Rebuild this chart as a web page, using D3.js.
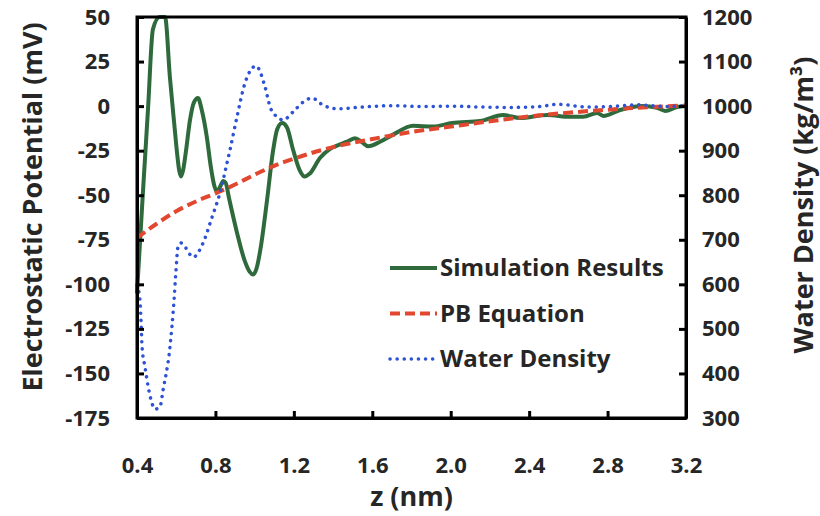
<!DOCTYPE html>
<html>
<head>
<meta charset="utf-8">
<script src="https://cdn.jsdelivr.net/npm/d3@7"></script>
<style>
  body { margin: 0; background: #fff; }
  text { font-family: "Open Sans", "Noto Sans", sans-serif; font-weight: bold; fill: #262626; }
</style>
</head>
<body>
<div id="chart"></div>
<script>
// values
var simZ = [0.400, 0.431, 0.456, 0.481, 0.515, 0.543, 0.568, 0.590, 0.605, 0.615, 0.624, 0.635, 0.650, 0.670, 0.690, 0.711, 0.730, 0.757, 0.775, 0.795, 0.808, 0.825, 0.840, 0.852, 0.870, 0.910, 0.950, 0.975, 0.992, 1.010, 1.030, 1.063, 1.094, 1.115, 1.140, 1.165, 1.196, 1.230, 1.255, 1.280, 1.334, 1.385, 1.436, 1.480, 1.512, 1.545, 1.579, 1.640, 1.706, 1.808, 1.910, 2.007, 2.150, 2.267, 2.354, 2.492, 2.609, 2.676, 2.747, 2.778, 2.864, 2.977, 3.053, 3.094, 3.155, 3.200]
var simV = [-105, -47, -2, 43, 66, 50, 16, -10, -27, -36, -39.5, -36, -25, -8, 2, 4.5, -2, -18, -33, -45, -48, -45, -42, -43, -52, -71, -87, -93, -94.5, -91, -80, -53, -25, -13, -9.5, -12, -24.5, -36, -39.5, -38, -29, -24, -21.5, -19.5, -18, -20, -22.5, -20, -16, -11, -11.5, -9.5, -8.4, -5, -6.7, -5, -6, -6, -3.9, -5.5, -2.2, 0, -1, -2.7, -0.5, 0]

var pbZ = [0.4, 0.5, 0.6, 0.7, 0.8, 0.9, 1.0, 1.1, 1.2, 1.4, 1.6, 1.8, 2.0, 2.2, 2.4, 2.6, 2.8, 3.0, 3.2]
var pbV = [-74, -66, -59, -53.5, -49, -44, -38.5, -33.5, -29.5, -23, -18.5, -14.5, -11.5, -8.5, -5.8, -3.7, -2, -0.6, 0.3]

var denZ = [0.400, 0.415, 0.421, 0.426, 0.441, 0.457, 0.472, 0.492, 0.517, 0.533, 0.568, 0.589, 0.599, 0.609, 0.624, 0.645, 0.686, 0.732, 0.783, 0.823, 0.859, 0.874, 0.910, 0.951, 1.007, 1.053, 1.079, 1.114, 1.145, 1.196, 1.247, 1.293, 1.349, 1.420, 1.553, 1.700, 1.850, 2.000, 2.150, 2.300, 2.450, 2.550, 2.700, 2.850, 2.950, 3.100, 3.200]
var denV = [598, 565, 513, 459, 414, 370, 340, 320, 325, 363, 459, 565, 632, 684, 693, 684, 661, 688, 751, 805, 872, 901, 976, 1052, 1090, 1043, 998, 976, 969, 987, 1009, 1018, 1002, 994, 998, 1001, 999, 1000, 998, 997, 999, 1004, 998, 1000, 1003, 999, 1001]

var xTicks = [0.4, 0.8, 1.2, 1.6, 2.0, 2.4, 2.8, 3.2]
var yTicks = [50, 25, 0, -25, -50, -75, -100, -125, -150, -175]
var y2Ticks = [1200, 1100, 1000, 900, 800, 700, 600, 500, 400, 300]

var legendNames = ["Simulation Results", "PB Equation", "Water Density"]

var margin = {top: 17, right: 134, bottom: 98, left: 137}
var w = 820 - margin.left - margin.right
var h = 516 - margin.top - margin.bottom

var green = "#2e6a3c"
var red = "#e2472f"
var blue = "#2d52d6"

var svg = d3.select("#chart").append("svg").attr("width", 820).attr("height", 516)
var g = svg.append("g").attr("transform", "translate(" + margin.left + "," + margin.top + ")")

var xScale = d3.scaleLinear().domain([0.4, 3.2]).range([0, w])
// clamp so the tall first peak is cut at the top of the frame
var yScale = d3.scaleLinear().domain([-175, 50]).range([h, 0]).clamp(true)
var y2Scale = d3.scaleLinear().domain([300, 1200]).range([h, 0])

// the three curves
function makeLine(ys, scale) {
  return d3.line()
      .x(function(d) { return xScale(d) })
      .y(function(d, i) { return scale(ys[i]) })
      .curve(d3.curveMonotoneX)
}

g.append("path")
    .attr("d", makeLine(simV, yScale)(simZ))
    .style("fill", "none").style("stroke", green).style("stroke-width", "4px")

g.append("path")
    .attr("d", makeLine(pbV, yScale)(pbZ))
    .style("fill", "none").style("stroke", red).style("stroke-width", "4px")
    .style("stroke-dasharray", "10,5")

g.append("path")
    .attr("d", makeLine(denV, y2Scale)(denZ))
    .style("fill", "none").style("stroke", blue).style("stroke-width", "3.5px")
    .style("stroke-linecap", "round").style("stroke-dasharray", "0.1,7")

// legend
var legendColors = [green, red, blue]
var legendDash = ["none", "10,5", "0.1,7"]
var legendWidth = ["4px", "4px", "3.5px"]
var legendCap = ["butt", "butt", "round"]
var legend = svg.append("g").attr("transform", "translate(390,268)")
legendNames.forEach(function(label, i) {
  var row = legend.append("g").attr("transform", "translate(0," + (i * 45.5) + ")")
  row.append("line")
      .attr("x1", 0).attr("x2", 47).attr("y1", 0).attr("y2", 0)
      .style("stroke", legendColors[i])
      .style("stroke-width", legendWidth[i])
      .style("stroke-linecap", legendCap[i])
      .style("stroke-dasharray", legendDash[i])
  row.append("text")
      .attr("x", 50).attr("y", 8)
      .style("font-size", "24px")
      .text(label)
})

// axis titles
svg.append("text")
    .attr("x", margin.left + w / 2).attr("y", 506)
    .attr("text-anchor", "middle")
    .style("font-size", "27px")
    .text("z (nm)")

svg.append("text")
    .attr("transform", "translate(42,207) rotate(-90)")
    .attr("text-anchor", "middle")
    .style("font-size", "27px")
    .text("Electrostatic Potential (mV)")

svg.append("text")
    .attr("transform", "translate(813,205) rotate(-90)")
    .attr("text-anchor", "middle")
    .style("font-size", "27px")
    .text("Water Density (kg/m³)")

// axes last, ticks pointing inward, on their own top level group
var axes = svg.append("g").attr("transform", "translate(" + margin.left + "," + margin.top + ")")

var xAxis = axes.append("g").attr("transform", "translate(0," + h + ")")
    .call(d3.axisBottom(xScale).tickValues(xTicks).tickFormat(d3.format(".1f"))
      .tickSizeInner(-7).tickSizeOuter(0).tickPadding(39))
var yAxis = axes.append("g")
    .call(d3.axisLeft(yScale).tickValues(yTicks).tickFormat(function(d) { return String(d) })
      .tickSizeInner(-7).tickSizeOuter(0).tickPadding(27))
var y2Axis = axes.append("g").attr("transform", "translate(" + w + ",0)")
    .call(d3.axisRight(y2Scale).tickValues(y2Ticks).tickFormat(function(d) { return String(d) })
      .tickSizeInner(-7).tickSizeOuter(0).tickPadding(16))

xAxis.selectAll(".tick text").style("font-size", "22px")
yAxis.selectAll(".tick text").style("font-size", "22px")
y2Axis.selectAll(".tick text").style("font-size", "22px")
axes.selectAll(".tick line").attr("stroke", "black").attr("stroke-width", 3)
axes.selectAll(".domain").attr("stroke", "black").attr("stroke-width", 3)

// top and right edges of the frame
axes.append("rect").attr("width", w).attr("height", h)
    .attr("fill", "none").attr("stroke", "black").attr("stroke-width", 3)
</script>
</body>
</html>
